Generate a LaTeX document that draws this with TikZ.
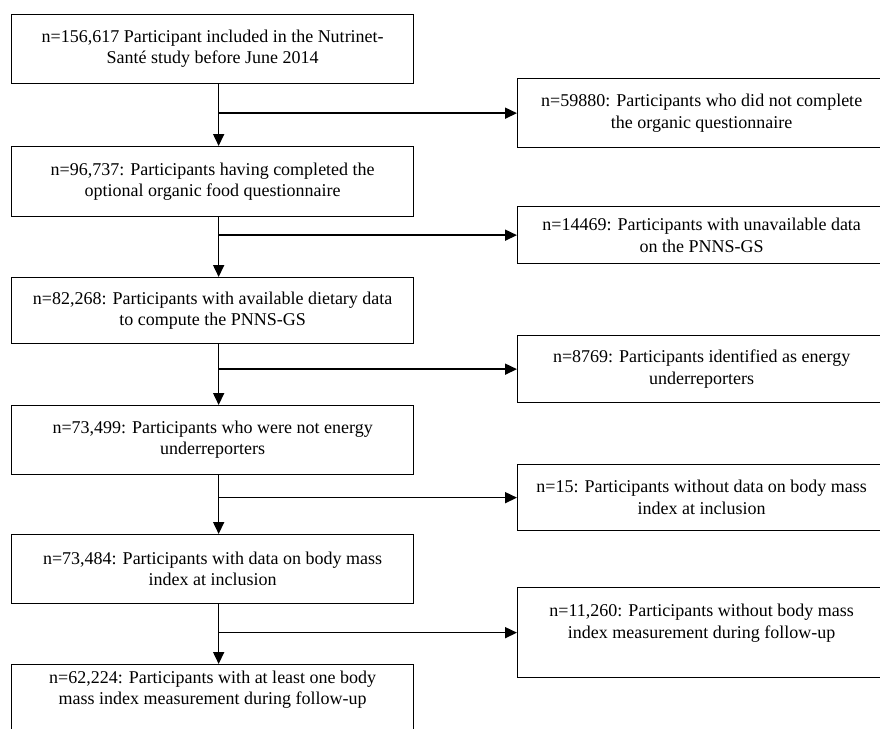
\documentclass[tikz,border=0pt]{standalone}
\usepackage{fontspec}
\setmainfont{Liberation Serif}
\usetikzlibrary{arrows.meta}
\begin{document}
\begin{tikzpicture}[x=1pt,y=-1pt,
    leftbox/.style={draw,line width=1.3pt,anchor=north west,minimum width=402pt,
      inner sep=0pt,align=center,font=\fontsize{18}{21}\selectfont},
    sidebox/.style={draw,line width=1.3pt,anchor=north west,minimum width=368pt,
      inner sep=0pt,align=center,font=\fontsize{18}{22}\selectfont},
    flowarrow/.style={line width=1.6pt,-{Triangle[width=11pt,length=12pt]}}]
        \useasboundingbox (0,0) rectangle (880,728);
        \clip (0,0) rectangle (880,728);
        % main column
        \node[leftbox,minimum height=69pt] (L1) at (11,14) {n=156,617 Participant included in the Nutrinet-\\Santé study before June 2014};
        \node[leftbox,minimum height=70pt] (L2) at (11,146) {n=96,737: Participants having completed the\\optional organic food questionnaire};
        \node[leftbox,minimum height=66pt] (L3) at (11,277) {n=82,268: Participants with available dietary data\\to compute the PNNS-GS};
        \node[leftbox,minimum height=69pt] (L4) at (11,405) {n=73,499: Participants who were not energy\\underreporters};
        \node[leftbox,minimum height=69pt] (L5) at (11,534) {n=73,484: Participants with data on body mass\\index at inclusion};
        \node[leftbox,minimum height=72pt] (L6) at (11,664) {n=62,224: Participants with at least one body\\mass index measurement during follow-up\\[4pt]~};
        % exclusions
        \node[sidebox,minimum height=69pt] (R1) at (517,78) {n=59880: Participants who did not complete\\the organic questionnaire};
        \node[sidebox,minimum height=57pt] (R2) at (517,206) {n=14469: Participants with unavailable data\\on the PNNS-GS};
        \node[sidebox,minimum height=67pt] (R3) at (517,335) {n=8769: Participants identified as energy\\underreporters};
        \node[sidebox,minimum height=66pt] (R4) at (517,464) {n=15: Participants without data on body mass\\index at inclusion};
        \node[sidebox,minimum height=90pt] (R5) at (517,587) {n=11,260: Participants without body mass\\index measurement during follow-up\\~};
        % arrows
        \foreach \a/\b/\r in {L1/L2/R1,L2/L3/R2,L3/L4/R3,L4/L5/R4,L5/L6/R5}{
          \draw[flowarrow] ([xshift=6pt]\a.south) -- ([xshift=6pt]\b.north);
          \draw[flowarrow] ([xshift=6pt]\a.south |- \r.west) -- (\r.west);
        }
    \end{tikzpicture}
\end{document}
